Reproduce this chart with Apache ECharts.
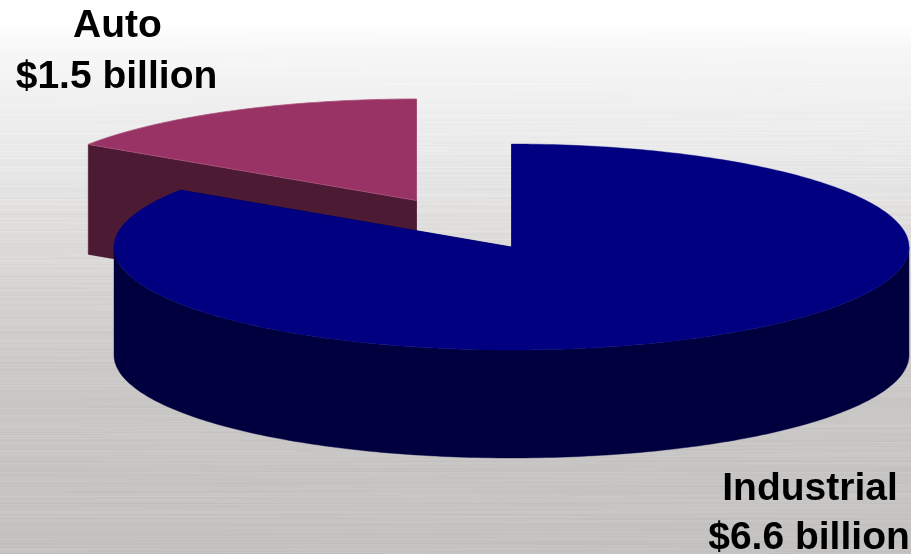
<!DOCTYPE html>
<html>
<head>
<meta charset="utf-8">
<title>Auto and Industrial revenue</title>
<style>
  html, body { margin: 0; padding: 0; background: #fff; }
  #chart { width: 911px; height: 554px; }
</style>
<script src="https://cdn.jsdelivr.net/npm/echarts@6/dist/echarts.min.js"></script>
</head>
<body>
<div id="chart"></div>
<script>
// Revenue by segment, in billions of dollars
const segments = ['Industrial', 'Auto'];
const revenue = [6.6, 1.5];

// Colours of each segment: top face, then side wall
const topColors = ['#000080', '#993366'];
const wallColors = ['#00003f', '#4d1a33'];

// Placement of each slice on the page (Auto is pulled out of the pie)
const centers = [[511.5, 247], [416.5, 200.5]];
const radii = [[397.5, 103], [394, 101.5]];
const depths = [108, 110];
// Industrial stands in front of Auto
const layers = [10, 1];

// Text anchors: name line, then value line
const nameAnchors = [[810, 489], [117.5, 26]];
const valueAnchors = [[809, 538], [116.5, 77.5]];

// Tilted-view foreshortening applied to pie angles
const viewSquash = 0.65;

function projectAngle(deg) {
  if (deg % 180 === 0) return deg;
  const r = deg * Math.PI / 180;
  let out = Math.atan2(viewSquash * Math.sin(r), Math.cos(r)) * 180 / Math.PI;
  if (out < 0) out += 360;
  return out;
}

function rimPoint(c, rad, deg, drop) {
  const r = deg * Math.PI / 180;
  return [c[0] + rad[0] * Math.sin(r), c[1] - rad[1] * Math.cos(r) + (drop || 0)];
}

function arcPoints(c, rad, from, to, drop) {
  const pts = [];
  const steps = Math.max(2, Math.ceil(to - from));
  for (let i = 0; i <= steps; i++) {
    pts.push(rimPoint(c, rad, from + (to - from) * i / steps, drop));
  }
  return pts;
}

const total = revenue.reduce((a, b) => a + b, 0);

function polygon(points, fill, layer, stroke) {
  return {
    type: 'polygon',
    z2: layer,
    shape: { points: points },
    style: { fill: fill, stroke: stroke || fill, lineWidth: stroke ? 0.8 : 0.4 }
  };
}

function renderSlice(params, api) {
  const idx = params.dataIndex;
  const value = api.value(0);
  let before = 0;
  for (let i = 0; i < idx; i++) before += revenue[i];
  const start = projectAngle(before / total * 360);
  const end = projectAngle((before + value) / total * 360);
  const c = centers[idx], rad = radii[idx], d = depths[idx];
  const wall = wallColors[idx], top = topColors[idx], layer = layers[idx];
  const children = [];

  // Cut faces of the wedge
  [start, end].forEach(function (a) {
    const rim = rimPoint(c, rad, a);
    children.push(polygon([c, rim, [rim[0], rim[1] + d], [c[0], c[1] + d]], wall, layer));
  });

  // Curved outer wall: only the near half of the rim can be seen
  const wFrom = Math.max(start, 90), wTo = Math.min(end, 270);
  if (wTo > wFrom) {
    children.push(polygon(
      arcPoints(c, rad, wFrom, wTo, 0).concat(arcPoints(c, rad, wFrom, wTo, d).reverse()),
      wall, layer + 1
    ));
  }

  // Top face
  children.push(polygon([c].concat(arcPoints(c, rad, start, end, 0)), top, layer + 2,
    idx === 1 ? '#a8507a' : null));

  return { type: 'group', children: children };
}

function labelItem(text, anchor) {
  return {
    type: 'text',
    z2: 50,
    style: {
      text: text,
      x: anchor[0],
      y: anchor[1],
      align: 'center',
      verticalAlign: 'middle',
      fill: '#000',
      font: 'bold 39px "Liberation Sans", Arial, sans-serif'
    }
  };
}

// Brushed-metal backdrop: pale at the top, darker further down, with horizontal grain
function brushedMetal(w, h) {
  const cv = document.createElement('canvas');
  cv.width = w; cv.height = h;
  const ctx = cv.getContext('2d');
  const levelStops = [[0, 255], [25, 254], [50, 247], [100, 240], [150, 234], [200, 226],
                      [250, 218], [300, 210], [350, 204], [400, 200], [470, 197], [554, 194]];
  function level(y) {
    for (let i = 1; i < levelStops.length; i++) {
      if (y <= levelStops[i][0]) {
        const a = levelStops[i - 1], b = levelStops[i];
        return a[1] + (b[1] - a[1]) * (y - a[0]) / (b[0] - a[0]);
      }
    }
    return 194;
  }
  let seed = 20231;
  function next() {
    seed = (seed * 1664525 + 1013904223) % 4294967296;
    return seed / 4294967296;
  }
  for (let y = 0; y < h; y++) {
    const warm = Math.min(1, y / 400) * 2;
    const amp = Math.min(1, Math.max(0, (y - 25) / 160));
    const rowShift = (next() - 0.5) * 6 * amp;
    let x = 0;
    while (x < w) {
      const len = 50 + next() * 260;
      const v = level(y) + rowShift + (next() - 0.5) * 5 * amp;
      const g = Math.round(Math.min(255, v));
      ctx.fillStyle = 'rgb(' + Math.round(Math.min(255, g + warm * 0.5)) + ',' + g + ',' + Math.round(Math.max(0, g - warm * 0.5)) + ')';
      ctx.fillRect(Math.round(x), y, Math.ceil(len), 1);
      x += len;
    }
  }
  // Soften the grain a little along the vertical
  const soft = document.createElement('canvas');
  soft.width = w; soft.height = h;
  const sctx = soft.getContext('2d');
  sctx.filter = 'blur(0.6px)';
  sctx.drawImage(cv, 0, 0);
  return soft;
}

const chart = echarts.init(document.getElementById('chart'), null, { renderer: 'canvas' });

chart.setOption({
  animation: false,
  backgroundColor: { image: brushedMetal(911, 554), repeat: 'no-repeat' },
  series: [
    {
      type: 'custom',
      coordinateSystem: 'none',
      silent: true,
      renderItem: renderSlice,
      data: revenue.map(function (v) { return [v]; }),
      z: 1
    },
    {
      type: 'custom',
      coordinateSystem: 'none',
      silent: true,
      renderItem: function (params, api) {
        const i = params.dataIndex;
        return {
          type: 'group',
          children: [
            labelItem(segments[i], nameAnchors[i]),
            labelItem('$' + api.value(0).toFixed(1) + ' billion', valueAnchors[i])
          ]
        };
      },
      data: revenue.map(function (v) { return [v]; }),
      z: 5
    }
  ]
});
</script>
</body>
</html>
